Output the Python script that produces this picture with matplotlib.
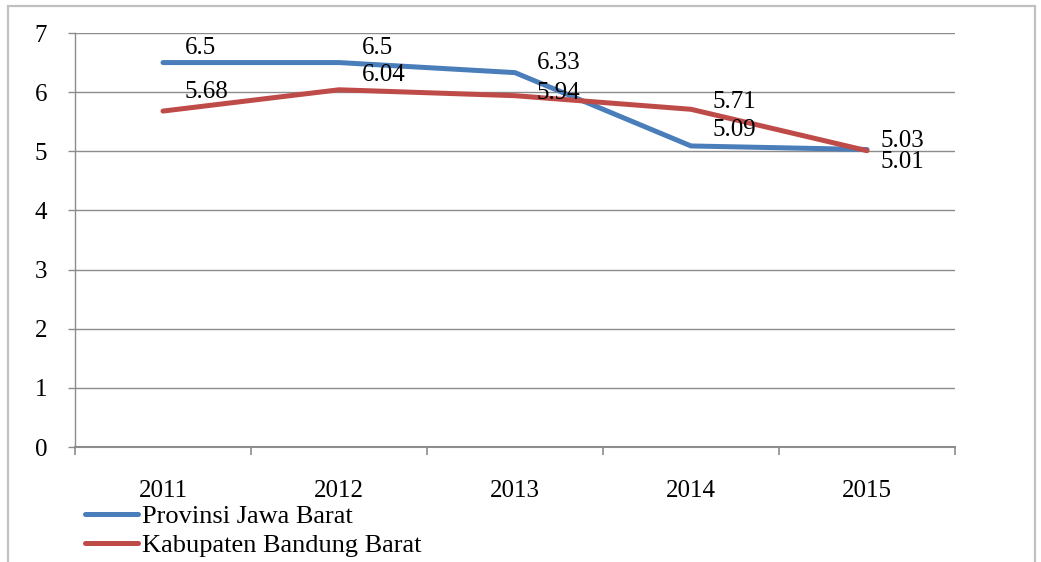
import matplotlib
matplotlib.use('Agg')
import matplotlib.pyplot as plt
from matplotlib.patches import Rectangle


# Data
# ----
years = ['2011', '2012', '2013', '2014', '2015']
jabar = [6.5, 6.5, 6.33, 5.09, 5.03]
kbb = [5.68, 6.04, 5.94, 5.71, 5.01]

# label offsets in pixels (dx, dy) as placed on the original chart
jabar_off = [(22, 15), (23, 15), (22, 10), (22, 16), (13, 9)]
kbb_off = [(22, 19), (23, 15), (22, 3), (22, 7), (13, -11)]

blue = '#4a7ebb'
red = '#be4b48'
grid_c = '#8c8c8c'

plt.rcParams['font.family'] = ['Liberation Serif', 'DejaVu Serif']
fs = 18


# Figure setup
# ------------
fig = plt.figure(figsize=(10.41, 5.62), dpi=100)
ax = fig.add_axes([75 / 1041, 1 - 447 / 562, 880 / 1041, 414 / 562])

fig.patches.append(Rectangle((8 / 1041, -0.1), 1027 / 1041, 1.1 - 6 / 562,
                             transform=fig.transFigure, fill=False,
                             edgecolor='#c0c0c0', linewidth=1.6))

x = range(len(years))
ax.set_xlim(-0.5, len(years) - 0.5)
ax.set_ylim(0, 7)

ax.set_xticks([i - 0.5 for i in range(len(years) + 1)])
ax.set_xticklabels([])
ax.set_xticks(list(x), minor=True)
ax.set_xticklabels(years, minor=True, fontsize=fs)
ax.tick_params(axis='x', which='major', length=6, width=1.2, color=grid_c)
ax.tick_params(axis='x', which='minor', length=0, pad=24)

ax.set_yticks(range(8))
ax.tick_params(axis='y', length=5, width=1, color=grid_c, pad=15, labelsize=fs)

for s in ['top', 'right']:
    ax.spines[s].set_visible(False)
for s in ['left', 'bottom']:
    ax.spines[s].set_color(grid_c)
ax.spines['bottom'].set_linewidth(1.5)
ax.spines['left'].set_linewidth(1)

ax.grid(axis='y', color=grid_c, linewidth=1)
ax.set_axisbelow(True)


# Plot data
# ---------
ax.plot(x, jabar, color=blue, linewidth=3.6, label='Provinsi Jawa Barat',
        solid_capstyle='round', zorder=3)
ax.plot(x, kbb, color=red, linewidth=3.6, label='Kabupaten Bandung Barat',
        solid_capstyle='round', zorder=3)

for vals, offs in [(jabar, jabar_off), (kbb, kbb_off)]:
    for i, (v, o) in enumerate(zip(vals, offs)):
        ax.annotate(f'{v:g}', (i, v), xytext=o, textcoords='offset pixels',
                    ha='left', va='center', fontsize=fs, zorder=4)


# Legend
# ------
fig.legend(loc='center left', bbox_to_anchor=(85 / 1041, 1 - 531 / 562),
           frameon=False, fontsize=fs + 1, handlelength=2.0, handletextpad=0.15,
           labelspacing=0.2, borderpad=0, borderaxespad=0)

fig.savefig('out.png', dpi=100)
